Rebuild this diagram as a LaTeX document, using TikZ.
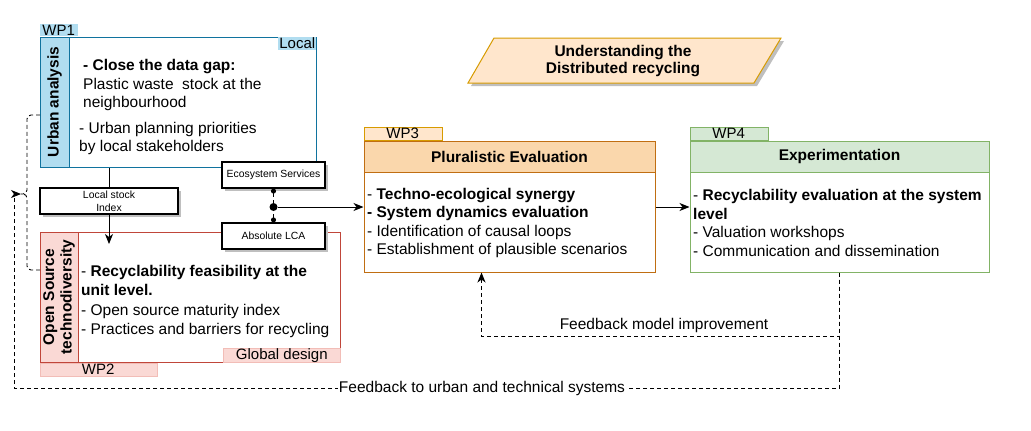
\documentclass[tikz,border=0pt]{standalone}
\usepackage{fontspec}
\setmainfont{Liberation Sans}
\usepackage{tikz}
\usetikzlibrary{arrows.meta,shadows,calc}

\definecolor{uaLine}{HTML}{10739E}
\definecolor{uaFill}{HTML}{B1DDF0}
\definecolor{osLine}{HTML}{C0463A}
\definecolor{osFill}{HTML}{FAD9D5}
\definecolor{osEdge}{HTML}{F2BDB7}
\definecolor{evLine}{HTML}{C06E12}
\definecolor{evHead}{HTML}{FAD7AC}
\definecolor{evFill}{HTML}{FFE6CC}
\definecolor{evTab}{HTML}{D79B00}
\definecolor{exLine}{HTML}{82B366}
\definecolor{exFill}{HTML}{D5E8D4}

\begin{document}
\begin{tikzpicture}[x=1pt,y=-1pt,
  every node/.style={inner sep=0pt},
  txt/.style={font=\fontsize{15.5}{18.6}\selectfont, align=left},
  bold/.style={font=\bfseries\fontsize{15.5}{17.5}\selectfont, align=center},
  small/.style={font=\fontsize{10.4}{12.8}\selectfont, align=center},
  tab/.style={font=\fontsize{15}{15}\selectfont},
  frame/.style={draw, fill=white, line width=1pt},
  minibox/.style={draw, fill=white, line width=1.2pt, minimum width=103,
    minimum height=26, small,
    drop shadow={shadow xshift=3pt, shadow yshift=-3pt, fill=black!25, opacity=1}},
  fb/.style={dash pattern=on 4pt off 3pt, line width=0.9pt},
  >={Stealth[length=10pt,width=8pt,inset=3pt]}]

  \useasboundingbox (0,0) rectangle (1031,431);

  % WP1 -- urban analysis
  \node[frame, draw=uaLine, minimum width=276, minimum height=130] (wp1) at (178,102) {};
  \node[draw=uaLine, fill=uaFill, line width=1pt, minimum width=130,
    minimum height=29, rotate=90, bold] (ua) at (54.5,102) {Urban analysis};
  \node[fill=uaFill, minimum width=38, minimum height=12, tab,
    anchor=south west] (wp1tab) at (wp1.north west) {WP1};
  \node[fill=uaFill, minimum width=38, minimum height=13, tab,
    anchor=north east] (loc) at (wp1.north east) {Local};
  \node[txt, anchor=west] (gap) at (83,85)
    {\textbf{- Close the data gap:}\\Plastic waste~ stock at the\\neighbourhood};
  \node[txt, anchor=west] (plan) at (79,138.5)
    {- Urban planning priorities\\by local stakeholders};

  % WP2 -- open source technodiversity
  \node[frame, draw=osLine, minimum width=300, minimum height=130] (wp2) at (190,297) {};
  \node[draw=osLine, fill=osFill, line width=1pt, minimum width=130,
    minimum height=38, rotate=90, bold] (os) at (59,297) {Open Source\\technodiversity};
  \node[fill=osFill, draw=osEdge, minimum width=117, minimum height=13, tab,
    anchor=south east] (glob) at (wp2.south east) {Global design};
  \node[fill=osFill, draw=osEdge, minimum width=117, minimum height=13, tab,
    anchor=north west] (wp2tab) at (wp2.south west) {WP2};
  \node[txt, anchor=west] (feas) at (81,301.5)
    {- \textbf{Recyclability feasibility at the}\\\textbf{unit level.}\\[2pt]%
     - Open source maturity index\\- Practices and barriers for recycling};

  % local stock between WP1 and WP2
  \node[minibox, minimum width=138] (lstock) at (109,201) {Local stock\\Index};
  \coordinate (lsend) at (109,244);
  \draw[line width=1pt] (lstock.north) -- (lstock.north |- wp1.south);
  \draw[->, line width=1pt] (lstock.south) -- (lsend);

  % ecosystem services and LCA
  \node[minibox] (eco) at (273.5,175) {Ecosystem Services};
  \node[minibox] (lca) at (273.5,236) {Absolute LCA};
  \node[circle, fill=black, minimum size=8pt] (jn) at (273.5,207) {};
  \draw[fb, {Circle[length=5pt]}-] (eco.south) -- (jn);
  \draw[fb, {Circle[length=5pt]}-] (lca.north) -- (jn);

  % WP3 -- pluralistic evaluation
  \node[frame, draw=evLine, minimum width=291, minimum height=131] (wp3) at (509.5,206.5) {};
  \node[draw=evLine, fill=evHead, line width=1pt, minimum width=291,
    minimum height=31, anchor=north, bold] (wp3head) at (wp3.north) {Pluralistic Evaluation};
  \node[fill=evFill, draw=evTab, minimum width=78, minimum height=13, tab,
    anchor=south west] (wp3tab) at (wp3.north west) {WP3};
  \node[txt, anchor=west] (wp3txt) at (367,223)
    {- \textbf{Techno-ecological synergy}\\\textbf{- System dynamics evaluation}\\%
     - Identification of causal loops\\- Establishment of plausible scenarios};

  % WP4 -- experimentation
  \node[frame, draw=exLine, minimum width=299, minimum height=131] (wp4) at (839.5,206.5) {};
  \node[draw=exLine, fill=exFill, line width=1pt, minimum width=299,
    minimum height=31, anchor=north, bold] (wp4head) at (wp4.north) {Experimentation};
  \node[fill=exFill, draw=exLine, minimum width=78, minimum height=13, tab,
    anchor=south west] (wp4tab) at (wp4.north west) {WP4};
  \node[txt, anchor=west] (wp4txt) at (693,223)
    {- \textbf{Recyclability evaluation at the system}\\\textbf{level}\\%
     - Valuation workshops\\- Communication and dissemination};

  \draw[->, line width=1pt] (jn) -- (jn -| wp3.west);
  \draw[->, line width=1pt] (wp3.east |- jn) -- (wp4.west |- jn);

  % title
  \coordinate (pA) at (494,38);
  \coordinate (pB) at (781,38);
  \coordinate (pC) at (754,83);
  \coordinate (pD) at (468,83);
  \draw[evTab, fill=evFill, line width=1pt,
    drop shadow={shadow xshift=3pt, shadow yshift=-3pt, fill=black!25, opacity=1}]
    (pA) -- (pB) -- (pC) -- (pD) -- cycle;
  \node[bold] (title) at (623,61) {Understanding the\\Distributed recycling};

  % feedback loops
  \draw[fb, ->] (wp4.south) -- ++(0,64) -| ([xshift=118pt]wp3.south west);
  \node[txt] (fbmod) at (664,325) {Feedback model improvement};

  \coordinate (brk) at (21,194);
  \coordinate (brtop) at (40,115);
  \coordinate (brbot) at (40,270);
  \draw[fb, ->] (wp4.south) |- (14,388) -- (14,194) -- (brk);
  \node[txt, fill=white, inner xsep=1pt] (fbsys) at (482,388)
    {Feedback to urban and technical systems};
  \draw[fb, rounded corners=4pt] (brtop) -| (27,194) -- (brk);
  \draw[fb, rounded corners=4pt] (brbot) -| (27,194) -- (brk);
\end{tikzpicture}
\end{document}
